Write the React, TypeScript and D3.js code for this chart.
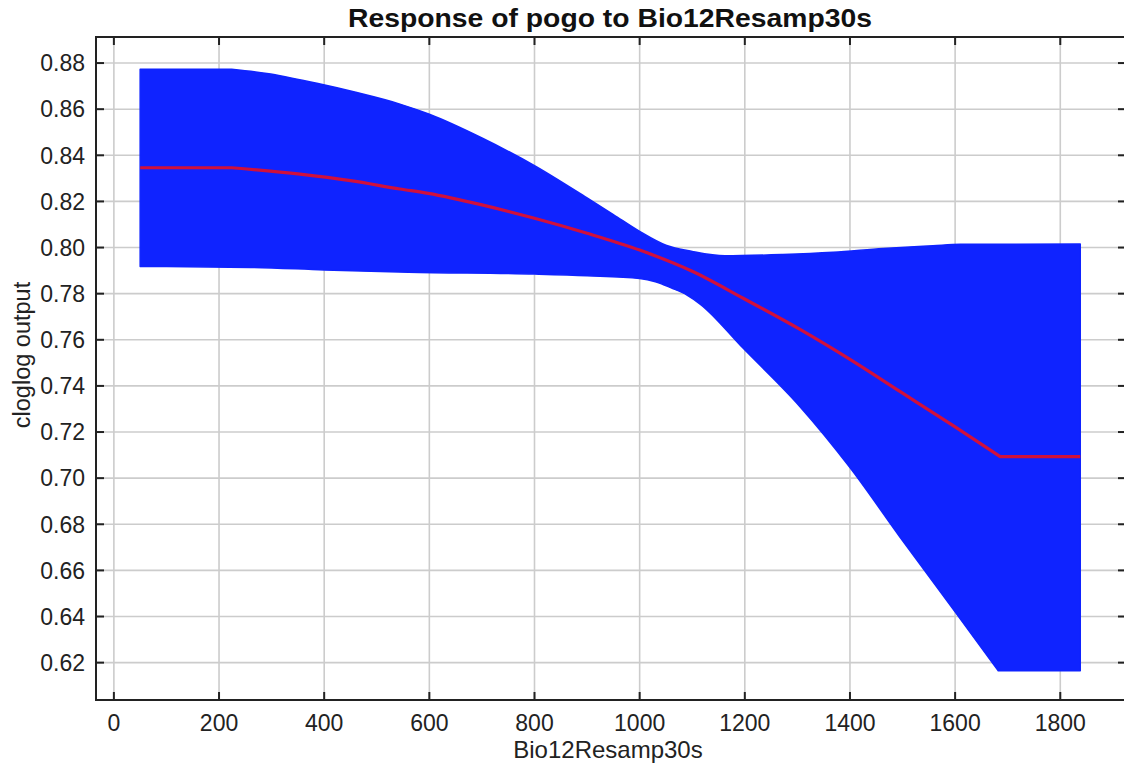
import React from 'react';
import * as d3 from 'd3';

// values
const upperX = [50, 224, 291, 386, 460, 544, 600, 700, 800, 900, 950, 1000, 1050, 1100, 1162, 1272, 1368, 1463, 1558, 1610, 1838];
const upperY = [0.8773, 0.8773, 0.8755, 0.8712, 0.8673, 0.8622, 0.8578, 0.8475, 0.8355, 0.8215, 0.8143, 0.807, 0.801, 0.7983, 0.7964, 0.797, 0.798, 0.7996, 0.8008, 0.8014, 0.8015];

const lowerX = [50, 260, 400, 560, 800, 900, 1000, 1030, 1060, 1090, 1115, 1197, 1305, 1400, 1495, 1600, 1682, 1838];
const lowerY = [0.7918, 0.7914, 0.7903, 0.7893, 0.7885, 0.7878, 0.7866, 0.7852, 0.7825, 0.7794, 0.7755, 0.7563, 0.731, 0.7046, 0.6745, 0.642, 0.6165, 0.6165];

const meanX = [50, 224, 354, 450, 544, 598, 700, 800, 900, 1000, 1101, 1197, 1305, 1400, 1495, 1600, 1686, 1838];
const meanY = [0.8346, 0.8346, 0.8318, 0.829, 0.8254, 0.8235, 0.8185, 0.8127, 0.8062, 0.7989, 0.7896, 0.778, 0.7645, 0.7515, 0.7376, 0.7222, 0.7093, 0.7093];

// indices where the curves have a sharp corner (flat parts)
const upperBreaks = [0, 1, upperX.length - 1];
const lowerBreaks = [0, lowerX.length - 2, lowerX.length - 1];
const meanBreaks = [0, 1, meanX.length - 2, meanX.length - 1];

const xTicks = [0, 200, 400, 600, 800, 1000, 1200, 1400, 1600, 1800];
const yTicks = [0.62, 0.64, 0.66, 0.68, 0.7, 0.72, 0.74, 0.76, 0.78, 0.8, 0.82, 0.84, 0.86, 0.88];

const title = 'Response of pogo to Bio12Resamp30s';
const xLabel = 'Bio12Resamp30s';
const yLabel = 'cloglog output';

const W = 1124;
const H = 765;
const plot = { left: 96, right: 1126, top: 37, bottom: 700 };
const font = '"Liberation Sans", Arial, Helvetica, sans-serif';

type Pt = [number, number];

export default function App() {
  const x = d3.scaleLinear().domain([-34, 1925]).range([plot.left, plot.right]);
  const y = d3.scaleLinear().domain([0.6038, 0.8913]).range([plot.bottom, plot.top]);

  const line = d3
    .line<Pt>()
    .x((d) => x(d[0]))
    .y((d) => y(d[1]))
    .curve(d3.curveMonotoneX);

  // smooth between breaks, sharp corners at breaks
  const pieces = (pts: Pt[], breaks: number[]) => {
    let d = '';
    for (let i = 0; i < breaks.length - 1; i++) {
      const seg = line(pts.slice(breaks[i], breaks[i + 1] + 1)) || '';
      d += i === 0 ? seg : 'L' + seg.slice(1);
    }
    return d;
  };

  const upperPts = upperX.map((v, i) => [v, upperY[i]] as Pt);
  const lowerPts = lowerX.map((v, i) => [v, lowerY[i]] as Pt);
  const meanPts = meanX.map((v, i) => [v, meanY[i]] as Pt);

  const n = lowerPts.length - 1;
  const lowerRevBreaks = lowerBreaks.map((b) => n - b).reverse();
  const bandPath =
    pieces(upperPts, upperBreaks) + 'L' + pieces(lowerPts.slice().reverse(), lowerRevBreaks).slice(1) + 'Z';

  const tickLen = 8;

  return (
    <svg
      width={W}
      height={H}
      style={{ position: 'absolute', left: 0, top: 0, display: 'block', background: '#fff' }}
      fontFamily={font}
    >
      <rect x={0} y={0} width={W} height={H} fill="#fff" />

      {/* grid */}
      <g stroke="#cccccc" strokeWidth={1.6}>
        {xTicks.map((t) => (
          <line key={'gx' + t} x1={x(t)} x2={x(t)} y1={plot.top} y2={plot.bottom} />
        ))}
        {yTicks.map((t) => (
          <line key={'gy' + t} x1={plot.left} x2={plot.right} y1={y(t)} y2={y(t)} />
        ))}
      </g>

      {/* band and mean */}
      <path d={bandPath} fill="#0f23ff" stroke="#0f23ff" strokeWidth={1.5} strokeLinejoin="round" />
      <path d={pieces(meanPts, meanBreaks)} fill="none" stroke="#d0103c" strokeWidth={3.2} strokeLinejoin="round" />

      {/* ticks */}
      <g stroke="#222" strokeWidth={2}>
        {xTicks.map((t) => (
          <g key={'tx' + t}>
            <line x1={x(t)} x2={x(t)} y1={plot.bottom} y2={plot.bottom - tickLen} />
            <line x1={x(t)} x2={x(t)} y1={plot.top} y2={plot.top + tickLen} />
          </g>
        ))}
        {yTicks.map((t) => (
          <g key={'ty' + t}>
            <line x1={plot.left} x2={plot.left + tickLen} y1={y(t)} y2={y(t)} />
            <line x1={plot.right} x2={plot.right - tickLen} y1={y(t)} y2={y(t)} />
          </g>
        ))}
      </g>

      {/* frame */}
      <rect
        x={plot.left}
        y={plot.top}
        width={plot.right - plot.left}
        height={plot.bottom - plot.top}
        fill="none"
        stroke="#222"
        strokeWidth={2}
      />

      {/* tick labels */}
      <g fontSize={23} fill="#222">
        {xTicks.map((t) => (
          <text key={'lx' + t} x={x(t)} y={731} textAnchor="middle">
            {t}
          </text>
        ))}
        {yTicks.map((t) => (
          <text key={'ly' + t} x={85} y={y(t)} dy="0.36em" textAnchor="end">
            {t.toFixed(2)}
          </text>
        ))}
      </g>

      {/* titles */}
      <text
        x={610}
        y={27}
        textAnchor="middle"
        fontSize={26}
        fontWeight="bold"
        fill="#111"
        textLength={524}
        lengthAdjust="spacingAndGlyphs"
      >
        {title}
      </text>
      <text x={608} y={758} textAnchor="middle" fontSize={24} fill="#222">
        {xLabel}
      </text>
      <text transform={`translate(30, 355) rotate(-90)`} textAnchor="middle" fontSize={23.5} fill="#222">
        {yLabel}
      </text>
    </svg>
  );
}
